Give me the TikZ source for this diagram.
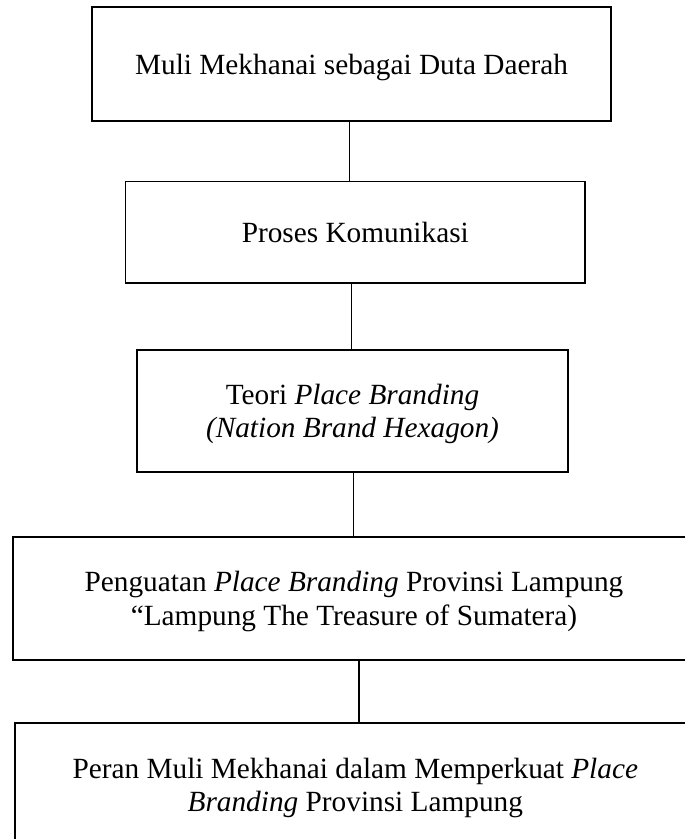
\documentclass[tikz,border=0pt]{standalone}
\usepackage{fontspec}
\setmainfont{Liberation Serif}
\begin{document}
\begin{tikzpicture}[x=1pt,y=-1pt,
  flowbox/.style={draw=black, line width=1.5pt, rectangle, inner sep=0pt,
    align=center, text depth=0pt,
    font=\fontsize{29.3pt}{33.5pt}\selectfont},
  link/.style={draw=black, line width=1.5pt}]
\useasboundingbox (0,0) rectangle (685,839);
\clip (0,0) rectangle (685,839);
\fill[white] (0,0) rectangle (685,839);
\node[flowbox, minimum width=519pt, minimum height=114pt] (b1) at (351.5,64)
  {Muli Mekhanai sebagai Duta Daerah};
\node[flowbox, minimum width=459.3pt, minimum height=101.3pt] (b2) at (355.3,232.3)
  {Proses Komunikasi};
\node[flowbox, minimum width=431pt, minimum height=122pt] (b3) at (352.5,411)
  {Teori \textit{Place Branding}\\\textit{(Nation Brand Hexagon)}};
\node[flowbox, minimum width=682pt, minimum height=123pt] (b4) at (354,598.5)
  {Penguatan \textit{Place Branding} Provinsi Lampung\\“Lampung The Treasure of Sumatera)};
\node[flowbox, minimum width=681pt, minimum height=124pt] (b5) at (355.3,785)
  {Peran Muli Mekhanai dalam Memperkuat \textit{Place}\\\textit{Branding} Provinsi Lampung};
\coordinate (x1) at (349.3,0);
\coordinate (x2) at (351.7,0);
\coordinate (x3) at (353.3,0);
\coordinate (x4) at (359,0);
\draw[link] (b1.south -| x1) -- (b2.north -| x1);
\draw[link] (b2.south -| x2) -- (b3.north -| x2);
\draw[link] (b3.south -| x3) -- (b4.north -| x3);
\draw[link] (b4.south -| x4) -- (b5.north -| x4);
\end{tikzpicture}
\end{document}
